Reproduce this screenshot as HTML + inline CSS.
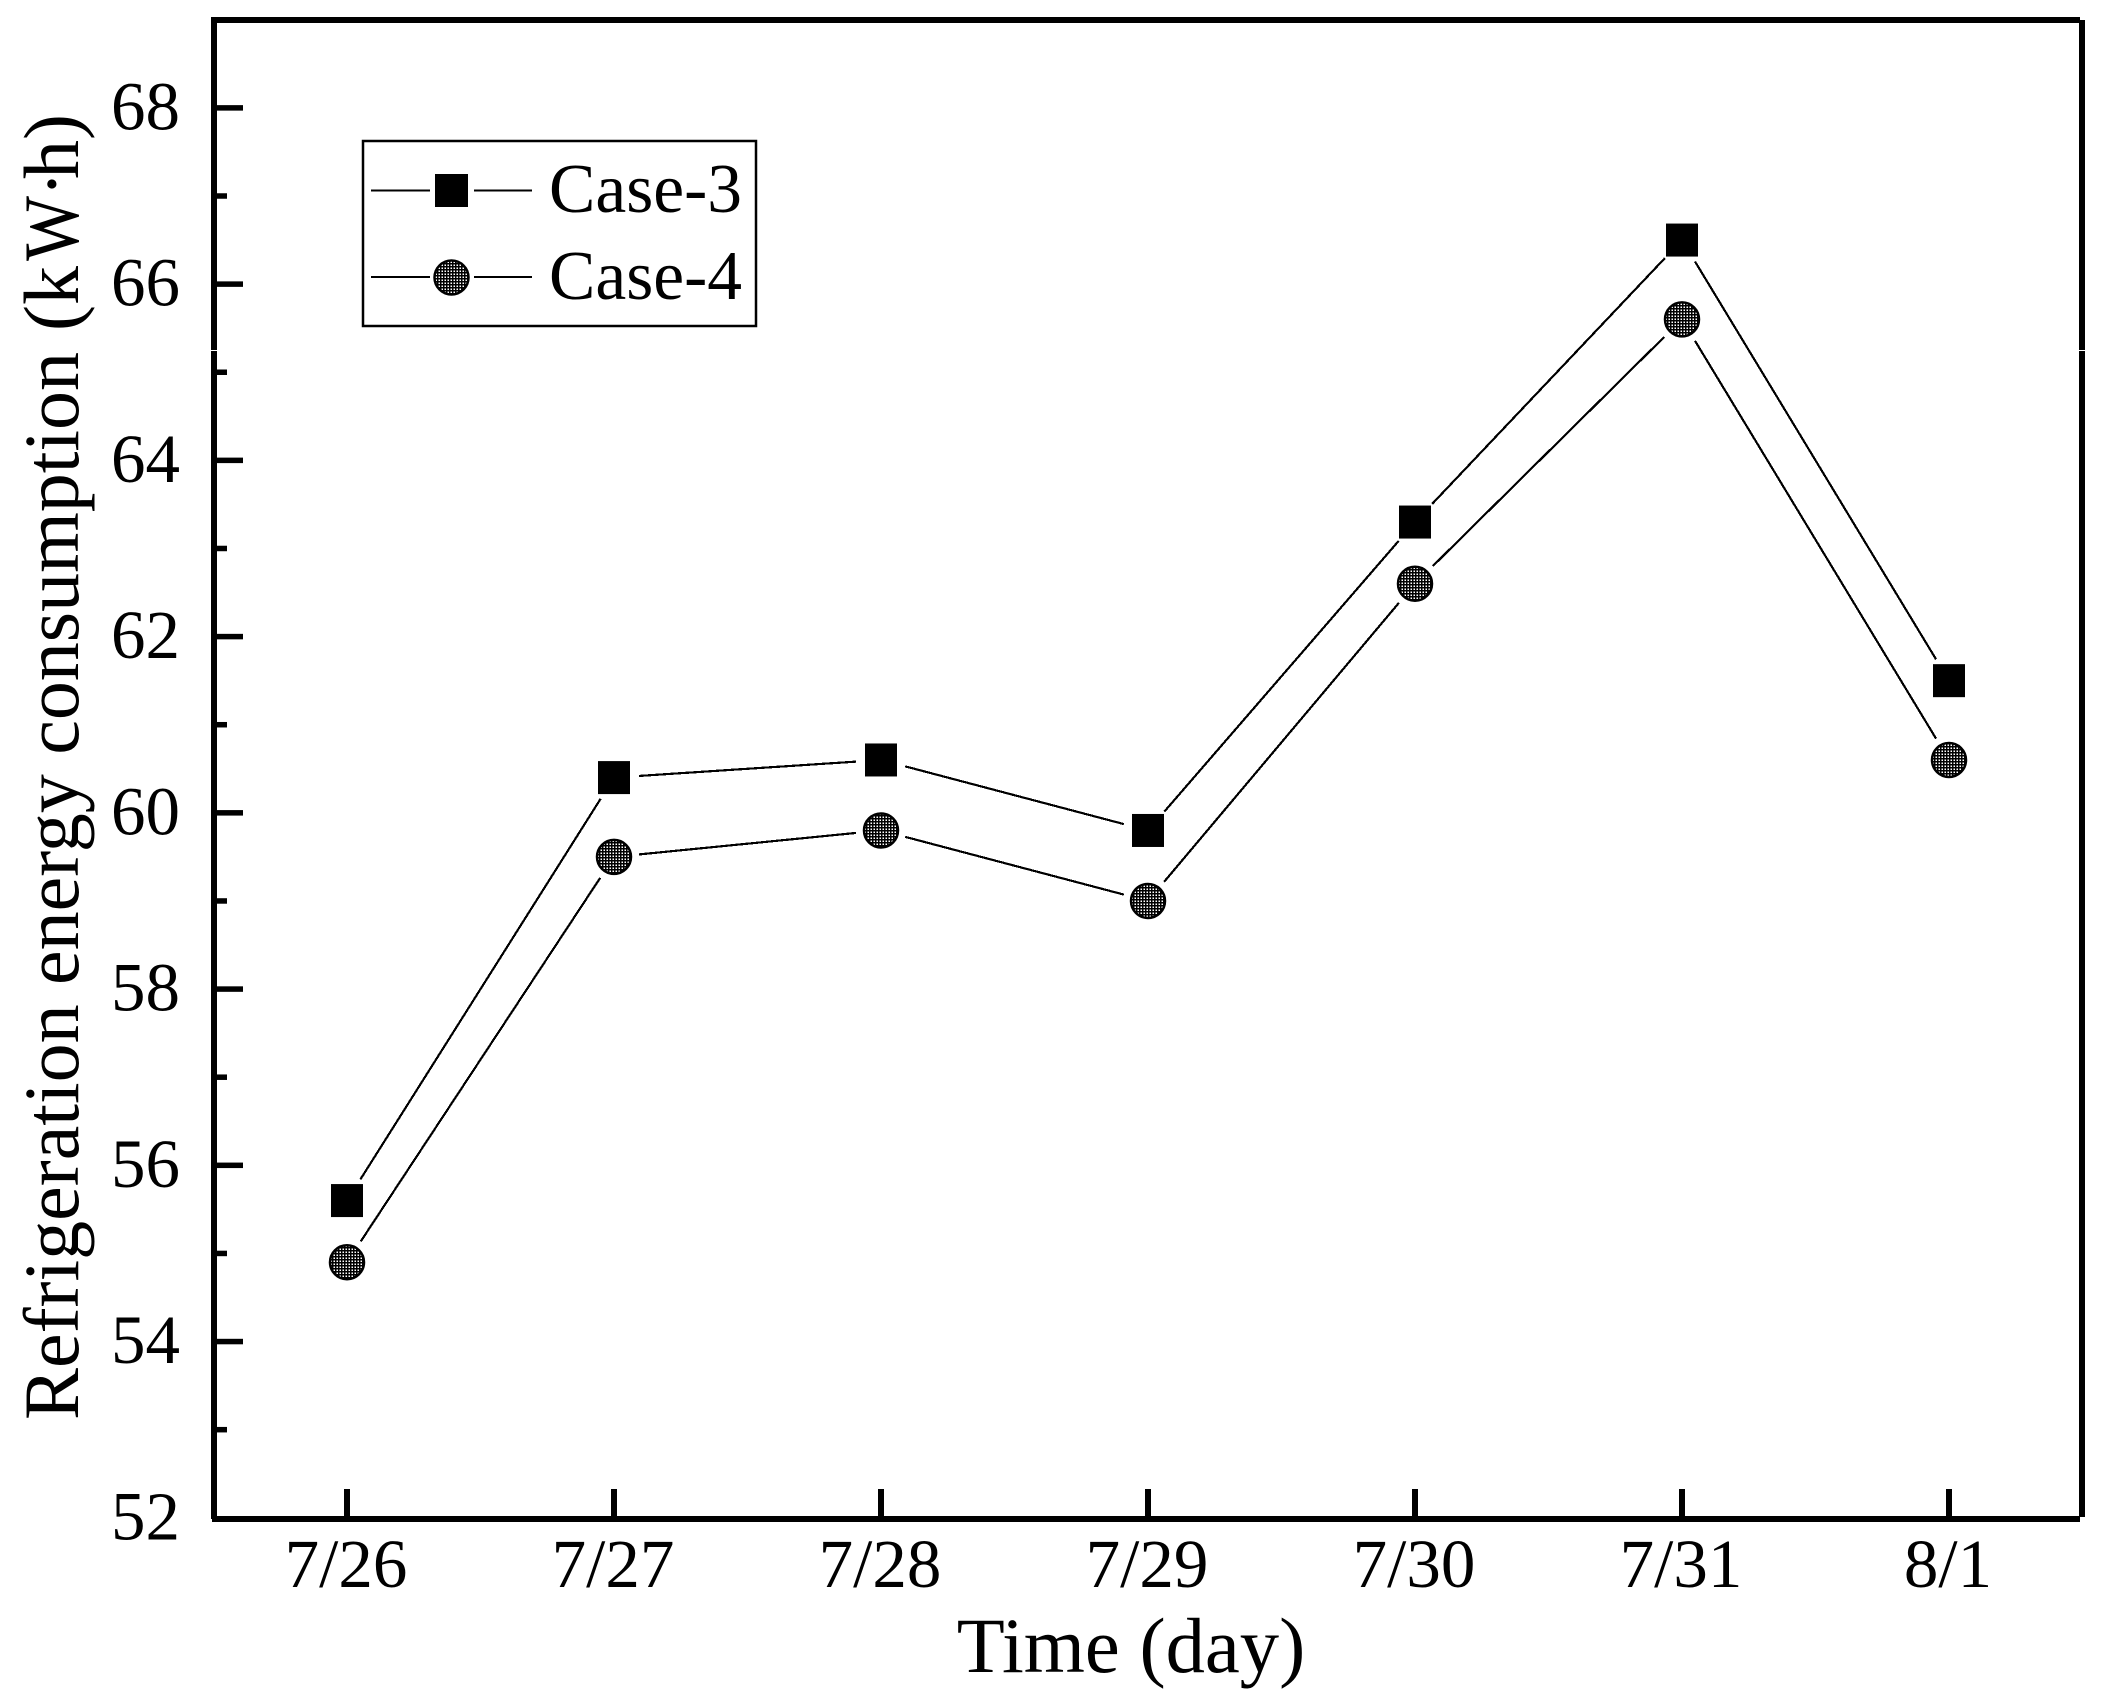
<!DOCTYPE html>
<html lang="en">
<head>
<meta charset="utf-8">
<title>Refrigeration energy consumption</title>
<style>
html,body{margin:0;padding:0;background:#fff;}
body{width:2103px;height:1705px;overflow:hidden;}
svg{display:block;}
text{font-family:"Liberation Serif",serif;fill:#000;}
</style>
</head>
<body>
<svg id="chart" xmlns="http://www.w3.org/2000/svg" width="2103" height="1705" viewBox="0 0 2103 1705">
  <defs>
    <pattern id="mesh" width="3" height="3" patternUnits="userSpaceOnUse">
      <rect width="3" height="3" fill="#000"></rect>
      <rect x="0.5" y="0.5" width="1.5" height="1.5" fill="#fff"></rect>
    </pattern>
  </defs>
  <rect x="0" y="0" width="2103" height="1705" fill="#fff"></rect>
  <g id="frame"></g>
  <g id="ticks"></g>
  <g id="series"></g>
  <text transform="translate(78,1420) rotate(-90)" font-size="78"><tspan x="0" textLength="1068" lengthAdjust="spacing">Refrigeration energy consumption</tspan><tspan x="1089">(</tspan><tspan x="1115">k</tspan><tspan x="1159" textLength="65" lengthAdjust="spacingAndGlyphs">W</tspan><tspan x="1223">·</tspan><tspan x="1241">h</tspan><tspan x="1280">)</tspan></text>
  <text x="1131" y="1672" font-size="78.6" text-anchor="middle">Time (day)</text>
  <g>
    <rect x="363" y="141" width="393" height="185" fill="#fff" stroke="#000" stroke-width="2.5"></rect>
    <line x1="371" y1="190.7" x2="430" y2="190.7" stroke="#000" stroke-width="2" shape-rendering="crispEdges"></line>
    <line x1="474" y1="190.7" x2="532" y2="190.7" stroke="#000" stroke-width="2" shape-rendering="crispEdges"></line>
    <rect x="435" y="174" width="33" height="33" fill="#000"></rect>
    <text x="549" y="212" font-size="69.5">Case-3</text>
    <line x1="371" y1="277" x2="430" y2="277" stroke="#000" stroke-width="2" shape-rendering="crispEdges"></line>
    <line x1="474" y1="277" x2="532" y2="277" stroke="#000" stroke-width="2" shape-rendering="crispEdges"></line>
    <circle cx="451.5" cy="277.5" r="17" fill="url(#mesh)" stroke="#000" stroke-width="2.5"></circle>
    <text x="549" y="299" font-size="69.5">Case-4</text>
  </g>
</svg>
<script>
const categories = ["7/26", "7/27", "7/28", "7/29", "7/30", "7/31", "8/1"];
const case3Values = [55.6, 60.4, 60.6, 59.8, 63.3, 66.5, 61.5];
const case4Values = [54.9, 59.5, 59.8, 59.0, 62.6, 65.6, 60.6];
const yMajorTicks = [52, 54, 56, 58, 60, 62, 64, 66, 68];
const yMinorTicks = [53, 55, 57, 59, 61, 63, 65, 67];

const NS = "http://www.w3.org/2000/svg";
const plot = { left: 214, right: 2082, top: 20, bottom: 1519 };
function xScale(i) { return 347 + i * 267; }
function yScale(v) { return 1517.8 - (v - 52) * 88.12; }

function make(tag, attrs, parent) {
  const el = document.createElementNS(NS, tag);
  for (const k in attrs) el.setAttribute(k, attrs[k]);
  parent.appendChild(el);
  return el;
}

const frame = document.getElementById("frame");
const ticks = document.getElementById("ticks");
const series = document.getElementById("series");

const topSpine = make("rect", { x: plot.left - 2, y: plot.top - 3, width: plot.right - plot.left, height: 6, fill: "#000" }, frame);


const bottomSpine = make("rect", { x: plot.left - 2, y: plot.bottom - 3, width: plot.right - plot.left, height: 6, fill: "#000" }, frame);


const leftSpine = make("rect", { x: plot.left - 3, y: plot.top - 3, width: 6, height: plot.bottom - plot.top + 3, fill: "#000" }, frame);


const rightSpine = make("rect", { x: plot.right - 3, y: plot.top, width: 6, height: plot.bottom - plot.top - 2, fill: "#000" }, frame);


const leftBreak = make("rect", { x: plot.left - 3, y: 350, width: 6, height: 1, fill: "#fff" }, frame);


const rightBreak = make("rect", { x: plot.right - 3, y: 350, width: 6, height: 1, fill: "#fff" }, frame);



yMajorTicks.forEach(function (v, i) {
  const y = yScale(v);
  if (i > 0) {
    const t = make("rect", { x: plot.left, y: y - 2.75, width: 29, height: 5.5, fill: "#000" }, ticks);
    
    
  }
  const l = make("text", { x: 180, y: y + 21.5, "font-size": 69, "text-anchor": "end" }, ticks);
  l.textContent = String(v);
  
  
});

yMinorTicks.forEach(function (v) {
  const t = make("rect", { x: plot.left, y: yScale(v) - 2.75, width: 13, height: 5.5, fill: "#000" }, ticks);
  
  
});

categories.forEach(function (c, i) {
  const x = xScale(i);
  const t = make("rect", { x: x - 3, y: 1489, width: 6, height: 28, fill: "#000" }, ticks);
  
  
  const l = make("text", { x: x - 1, y: 1587, "font-size": 69, "text-anchor": "middle" }, ticks);
  l.textContent = c;
  
  
});

const GAP = 25;
function drawSegments(values, parent) {
  for (let i = 0; i < values.length - 1; i++) {
    const x1 = xScale(i), y1 = yScale(values[i]);
    const x2 = xScale(i + 1), y2 = yScale(values[i + 1]);
    const len = Math.hypot(x2 - x1, y2 - y1);
    const ux = (x2 - x1) / len, uy = (y2 - y1) / len;
    const seg = make("line", {
      x1: x1 + ux * GAP, y1: y1 + uy * GAP,
      x2: x2 - ux * GAP, y2: y2 - uy * GAP,
      stroke: "#000", "stroke-width": 2.2, "shape-rendering": "crispEdges"
    }, parent);
    
    
  }
}

const case3Group = make("g", {}, series);


const case4Group = make("g", {}, series);



drawSegments(case3Values, case3Group);
drawSegments(case4Values, case4Group);

case3Values.forEach(function (v, i) {
  const m = make("rect", { x: xScale(i) - 16, y: yScale(v) - 16.5, width: 32, height: 33, fill: "#000" }, case3Group);
  
  
});

case4Values.forEach(function (v, i) {
  const m = make("circle", { cx: xScale(i), cy: yScale(v), r: 17, fill: "url(#mesh)", stroke: "#000", "stroke-width": 2.5 }, case4Group);
  
  
});
</script>
</body>
</html>
